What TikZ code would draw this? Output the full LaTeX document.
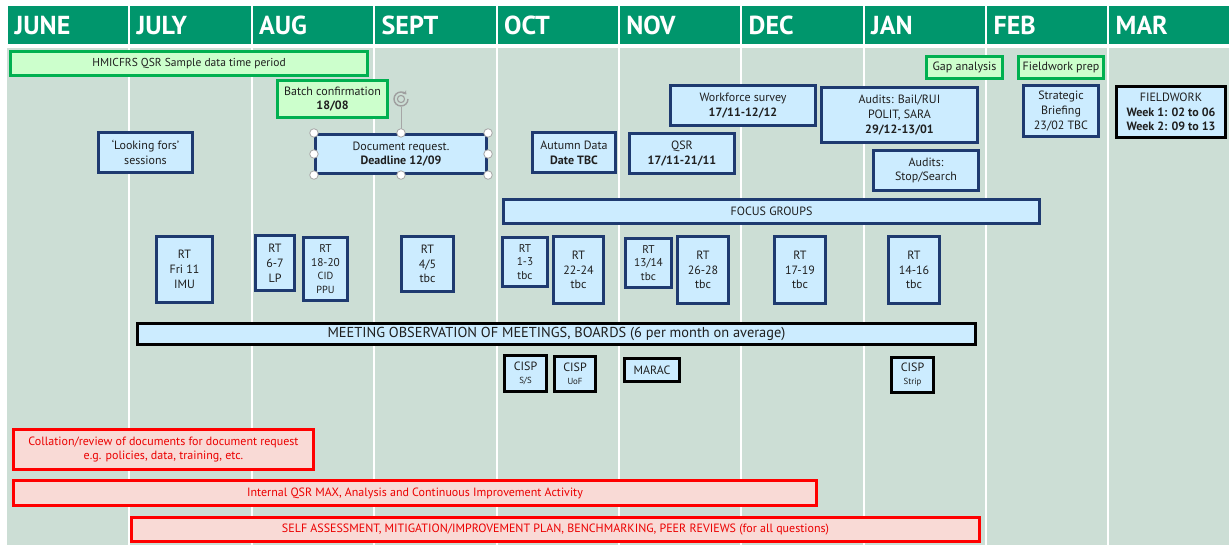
\documentclass[tikz,border=0pt]{standalone}
\usepackage{fontspec}
\setmainfont{PT Sans}
\usetikzlibrary{arrows.meta,calc}
\definecolor{hdrgreen}{RGB}{0,150,108}
\definecolor{bodybg}{RGB}{204,222,213}
\definecolor{bluefill}{RGB}{204,236,255}
\definecolor{blueedge}{RGB}{30,58,112}
\definecolor{greenfill}{RGB}{204,255,204}
\definecolor{greenedge}{RGB}{0,176,80}
\definecolor{redfill}{RGB}{249,218,214}
\definecolor{rededge}{RGB}{255,0,0}
\definecolor{redtext}{RGB}{235,0,0}
\tikzset{
  base/.style={draw, line width=2.6pt, inner sep=1pt, align=center,
    font=\fontsize{12}{14.8}\selectfont, text=black!88},
  bluebox/.style={base, fill=bluefill, draw=blueedge},
  blackbox/.style={base, fill=bluefill, draw=black},
  greenbox/.style={base, fill=greenfill, draw=greenedge},
  redbox/.style={base, fill=redfill, draw=rededge, text=redtext},
  smallrt/.style={font=\fontsize{11.3}{13.8}\selectfont},
  hdrlabel/.style={text=white, inner sep=0pt, anchor=base west,
    font=\bfseries\fontsize{26}{26}\selectfont},
  handle/.style={circle, draw=gray!70, fill=white, line width=0.8pt,
    minimum size=8.5pt, inner sep=0pt},
}
\newcommand{\tlbox}[7]{\node[#2, minimum width={#5-#3-2.5}, minimum height={#6-#4-2.5}] (#1) at ({(#3+#5)/2},{(#4+#6)/2}) {#7};}
\begin{document}
\begin{tikzpicture}[x=1pt,y=-1pt]
\useasboundingbox (0,0) rectangle (1229,545);
\fill[white] (0,0) rectangle (1229,545);
% body background
\fill[bodybg] (7,48) rectangle (1229,545);
\foreach \x in {129,251.5,374,496.5,618.7,741,863.5,986,1108}
  \draw[white, line width=2pt] (\x,48) -- (\x,545);
% header
\foreach \n/\a/\b/\t in {jun/7/129/JUNE, jul/129/251.5/JULY, aug/251.5/374/AUG,
  sep/374/496.5/SEPT, oct/496.5/618.7/OCT, nov/618.7/741/NOV, dec/741/863.5/DEC,
  jan/863.5/986/JAN, feb/986/1108/FEB, mar/1108/1230/MAR}{
  \fill[hdrgreen] (\a+1,6) rectangle (\b-1,44);
  \node[hdrlabel] (m-\n) at (\a+7.5,35) {\t};
}
% top boxes
\tlbox{hmic}{greenbox}{9}{50}{369}{77}{\fontsize{11.5}{13}\selectfont HMICFRS QSR Sample data time period}
\tlbox{batch}{greenbox}{276}{79}{389}{119}{Batch confirmation\\\textbf{18/08}}
\tlbox{docreq}{bluebox}{314}{133}{488}{175}{Document request.\\\textbf{Deadline 12/09}}
\tlbox{look}{bluebox}{97}{131}{194}{174}{‘Looking fors’\\sessions}
\tlbox{autumn}{bluebox}{531}{131}{617}{174}{Autumn Data\\\textbf{Date TBC}}
\tlbox{qsr}{bluebox}{628}{132}{736}{175}{QSR\\\textbf{17/11-21/11}}
\tlbox{work}{bluebox}{669}{84}{817}{127}{Workforce survey\\\textbf{17/11-12/12}}
\tlbox{bail}{bluebox}{820}{86}{979}{144}{Audits: Bail/RUI\\POLIT, SARA\\\textbf{29/12-13/01}}
\tlbox{stop}{bluebox}{872}{149}{980}{192}{Audits:\\Stop/Search}
\tlbox{gap}{greenbox}{925}{55}{1004}{80}{Gap analysis}
\tlbox{prep}{greenbox}{1017}{55}{1105}{80}{Fieldwork prep}
\tlbox{strat}{bluebox}{1022}{84}{1100}{138}{Strategic\\Briefing\\23/02 TBC}
\tlbox{field}{blackbox}{1115}{85}{1227}{139}{FIELDWORK\\\textbf{Week 1: 02 to 06}\\\textbf{Week 2: 09 to 13}}
% rotation handle and selection handles
\node[circle, minimum size=16pt, inner sep=0pt] (rot) at (401,99) {};
\draw[gray!75, line width=1.4pt, -{Stealth[length=3.5pt,width=5pt]}] ($(rot.center)+(7,0)$) arc (0:320:7);
\draw[gray!75, line width=1.1pt] (rot.center) circle (3.6);
\draw[gray!70, line width=0.8pt] (rot.south) -- (docreq.north);
\foreach \a in {north west,north,north east,west,east,south west,south,south east}
  \node[handle] (h-\a) at (docreq.\a) {};
% focus groups
\tlbox{focus}{bluebox}{502}{198}{1041}{225}{FOCUS GROUPS}
% RT boxes
\tlbox{rt1}{bluebox}{155}{235}{214}{304}{RT\\Fri 11\\IMU}
\tlbox{rt2}{bluebox}{254}{234}{296}{292}{RT\\6-7\\LP}
\tlbox{rt3}{bluebox,smallrt}{302}{236}{349}{302}{RT\\18-20\\{\fontsize{10.3}{13}\selectfont CID}\\{\fontsize{10.3}{13}\selectfont PPU}}
\tlbox{rt4}{bluebox}{400}{235}{455}{293}{RT\\4/5\\tbc}
\tlbox{rt5}{bluebox,smallrt}{501}{236}{549}{288}{RT\\1-3\\tbc}
\tlbox{rt6}{bluebox}{552}{235}{605}{305}{RT\\22-24\\tbc}
\tlbox{rt7}{bluebox,smallrt}{624}{237}{673}{289}{RT\\13/14\\tbc}
\tlbox{rt8}{bluebox}{676}{235}{730}{305}{RT\\26-28\\tbc}
\tlbox{rt9}{bluebox}{773}{235}{827}{305}{RT\\17-19\\tbc}
\tlbox{rt10}{bluebox}{887}{235}{941}{305}{RT\\14-16\\tbc}
% meeting observation
\tlbox{meet}{blackbox}{136}{322}{977}{346}{\fontsize{14.4}{16}\selectfont MEETING OBSERVATION OF MEETINGS, BOARDS (6 per month on average)}
% CISP / MARAC
\tlbox{cisp1}{blackbox}{503}{354}{548}{393}{CISP\\[-2pt]{\fontsize{8.8}{10}\selectfont S/S}}
\tlbox{cisp2}{blackbox}{553}{355}{597}{393}{CISP\\[-2pt]{\fontsize{8.8}{10}\selectfont UoF}}
\tlbox{marac}{blackbox}{623}{357}{681}{383}{MARAC}
\tlbox{cisp3}{blackbox}{890}{356}{935}{394}{CISP\\[-2pt]{\fontsize{8.8}{10}\selectfont Strip}}
% red bars
\tlbox{coll}{redbox}{12}{428}{315}{471}{Collation/review of documents for document request\\e.g. policies, data, training, etc.}
\tlbox{intq}{redbox}{12}{479}{818}{507}{Internal QSR MAX, Analysis and Continuous Improvement Activity}
\tlbox{self}{redbox}{130}{516}{981}{543}{SELF ASSESSMENT, MITIGATION/IMPROVEMENT PLAN, BENCHMARKING, PEER REVIEWS (for all questions)}
\end{tikzpicture}
\end{document}
